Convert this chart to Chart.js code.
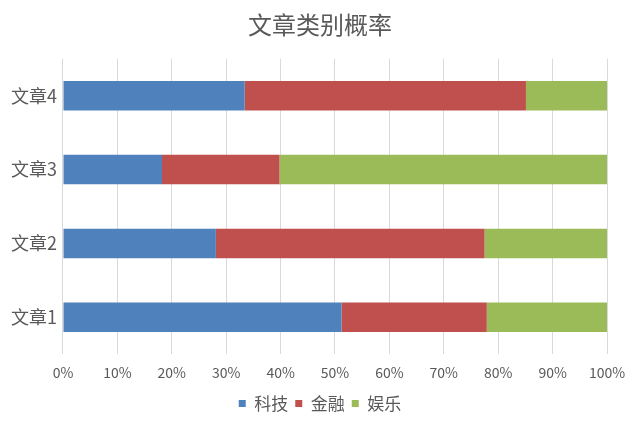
<!DOCTYPE html>
<html>
<head>
<meta charset="utf-8">
<script src="https://cdn.jsdelivr.net/npm/chart.js@4"></script>
<style>
  html, body { margin: 0; padding: 0; background: #fff; }
  #wrap { width: 640px; height: 426px; }
</style>
</head>
<body>
<div id="wrap"><canvas id="rateChart"></canvas></div>
<script>
// 文章类别概率 - 百分比堆积条形图
var articles = ['文章1', '文章2', '文章3', '文章4'];
var keji = [51.2, 28.1, 18.2, 33.4];
var jinrong = [26.7, 49.4, 21.6, 51.7];
var yule = [22.1, 22.5, 60.2, 14.9];

var fontFamily = '"Noto Sans CJK SC", "Noto Sans", sans-serif';
var textColor = '#595959';

var ctx = document.getElementById('rateChart').getContext('2d');
var rateChart = new Chart(ctx, {
    type: 'bar',
    data: {
        labels: articles,
        datasets: [
            { label: '科技', data: keji, backgroundColor: '#4f81bd' },
            { label: '金融', data: jinrong, backgroundColor: '#c0504d' },
            { label: '娱乐', data: yule, backgroundColor: '#9bbb59' }
        ]
    },
    options: {
        indexAxis: 'y',
        responsive: true,
        maintainAspectRatio: false,
        animation: false,
        barPercentage: 0.4,
        categoryPercentage: 1,
        // marges symétriques : le titre et la légende restent centrés
        layout: { padding: { left: 5, right: 5, top: 0, bottom: 4 } },
        scales: {
            x: {
                stacked: true,
                min: 0,
                max: 100,
                ticks: {
                    stepSize: 10,
                    color: textColor,
                    font: { family: fontFamily, size: 14 },
                    padding: 10,
                    callback: function(v) { return v + '%'; }
                },
                grid: { color: '#d9d9d9', drawTicks: false },
                border: { display: false },
                afterFit: function(scale) {
                    scale.height -= 3;
                    scale.paddingRight = 33; // place à droite du graphique
                }
            },
            y: {
                stacked: true,
                reverse: true,
                ticks: {
                    color: textColor,
                    font: { family: fontFamily, size: 18 },
                    padding: 6
                },
                grid: { display: false, drawTicks: false },
                border: { display: false }
            }
        },
        plugins: {
            title: {
                display: true,
                text: '文章类别概率',
                color: textColor,
                font: { family: fontFamily, size: 24, weight: 'normal' },
                padding: { top: 10, bottom: 20 }
            },
            legend: {
                position: 'bottom',
                labels: {
                    color: textColor,
                    font: { family: fontFamily, size: 17 },
                    boxWidth: 7,
                    boxHeight: 7,
                    padding: 7
                }
            },
            tooltip: {
                callbacks: {
                    label: function(item) {
                        return item.dataset.label + ": " + item.raw + "%";
                    }
                }
            }
        }
    }
});
</script>
</body>
</html>
